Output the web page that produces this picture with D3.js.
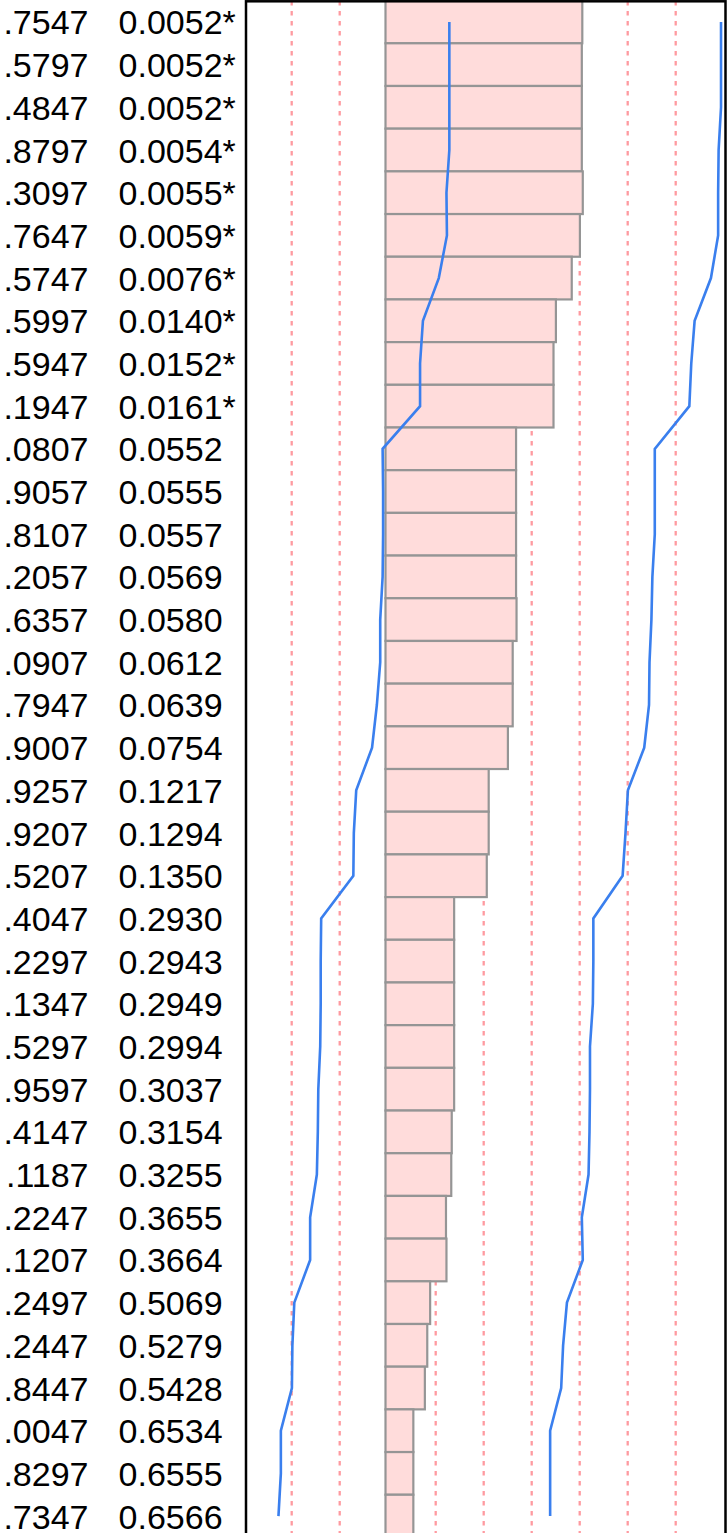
<html>
<head>
<script src="https://cdn.jsdelivr.net/npm/d3@7"></script>
<style>
body { margin: 0; background: #fff; }
text { font-family: "Liberation Sans", Arial, Helvetica, sans-serif; font-size: 34px; fill: #000; }
</style>
</head>
<body>
<svg id="chart" width="727" height="1533"></svg>
<script>
// row labels (cut off at the left edge of the picture)
var labels = [".7547", ".5797", ".4847", ".8797", ".3097", ".7647", ".5747", ".5997", ".5947", ".1947",
  ".0807", ".9057", ".8107", ".2057", ".6357", ".0907", ".7947", ".9007", ".9257", ".9207",
  ".5207", ".4047", ".2297", ".1347", ".5297", ".9597", ".4147", ".1187", ".2247", ".1207",
  ".2497", ".2447", ".8447", ".0047", ".8297", ".7347"];

var pValues = ["0.0052*", "0.0052*", "0.0052*", "0.0054*", "0.0055*", "0.0059*", "0.0076*", "0.0140*", "0.0152*", "0.0161*",
  "0.0552", "0.0555", "0.0557", "0.0569", "0.0580", "0.0612", "0.0639", "0.0754", "0.1217", "0.1294",
  "0.1350", "0.2930", "0.2943", "0.2949", "0.2994", "0.3037", "0.3154", "0.3255", "0.3655", "0.3664",
  "0.5069", "0.5279", "0.5428", "0.6534", "0.6555", "0.6566"];

// bar lengths (one grid step = 1)
var barValues = [4.10, 4.09, 4.09, 4.09, 4.11, 4.05, 3.88, 3.55, 3.50, 3.50,
  2.72, 2.72, 2.72, 2.72, 2.73, 2.65, 2.65, 2.55, 2.15, 2.15,
  2.11, 1.43, 1.43, 1.43, 1.43, 1.43, 1.38, 1.37, 1.26, 1.27,
  0.93, 0.87, 0.82, 0.58, 0.58, 0.58];

// lower and upper blue lines
var lowerValues = [1.33, 1.33, 1.33, 1.33, 1.27, 1.28, 1.11, 0.78, 0.72, 0.72,
  -0.06, -0.05, -0.05, -0.06, -0.11, -0.11, -0.18, -0.28, -0.61, -0.66,
  -0.67, -1.34, -1.35, -1.35, -1.36, -1.40, -1.41, -1.43, -1.57, -1.57,
  -1.90, -1.94, -1.95, -2.18, -2.18, -2.23];

var upperValues = [6.99, 6.99, 6.99, 6.94, 6.93, 6.93, 6.78, 6.44, 6.37, 6.33,
  5.61, 5.61, 5.61, 5.56, 5.54, 5.50, 5.49, 5.39, 5.05, 5.00,
  4.94, 4.33, 4.33, 4.32, 4.26, 4.26, 4.25, 4.23, 4.09, 4.11,
  3.78, 3.70, 3.66, 3.43, 3.43, 3.43];

var svg = d3.select("#chart");

var x = d3.scaleLinear().domain([0, 1]).range([385.5, 433.5]);
var y = d3.scaleBand().domain(d3.range(labels.length)).range([0.6, 0.6 + 42.69 * labels.length]);
var mid = function(i) { return y(i) + y.bandwidth() / 2; };

//dotted grid lines
svg.selectAll("line.grid")
    .data(d3.range(-2, 7))
    .enter().append("line")
      .attr("class", "grid")
      .attr("x1", function(d) { return x(d) + 2.2; })
      .attr("x2", function(d) { return x(d) + 2.2; })
      .attr("y1", 1)
      .attr("y2", 1533)
      .style("stroke", "#fe9aa0")
      .style("stroke-width", 2.3)
      .style("stroke-dasharray", "4.5,5.5");

//bars
svg.selectAll("rect.bar")
    .data(barValues)
    .enter().append("rect")
      .attr("class", "bar")
      .attr("x", x(0))
      .attr("y", function(d, i) { return y(i); })
      .attr("width", function(d) { return x(d) - x(0); })
      .attr("height", y.bandwidth())
      .style("fill", "#ffdcdb")
      .style("stroke", "#959595")
      .style("stroke-width", 2.2);

//blue lines
var line = d3.line()
    .x(function(d) { return x(d); })
    .y(function(d, i) { return mid(i); });

[lowerValues, upperValues].forEach(function(vals) {
  svg.append("path")
      .attr("d", line(vals))
      .style("fill", "none")
      .style("stroke", "#3a7fee")
      .style("stroke-width", 2.6);
});

//text columns
svg.selectAll("text.lab")
    .data(labels)
    .enter().append("text")
      .attr("class", "lab")
      .attr("x", 88.5)
      .attr("y", function(d, i) { return mid(i) + 12.5; })
      .attr("text-anchor", "end")
      .text(function(d) { return d; });

svg.selectAll("text.pval")
    .data(pValues)
    .enter().append("text")
      .attr("class", "pval")
      .attr("x", 118.6)
      .attr("y", function(d, i) { return mid(i) + 12.5; })
      .text(function(d) { return d; });

//frame
svg.append("rect")
    .attr("x", 246)
    .attr("y", 1.3)
    .attr("width", 479.5)
    .attr("height", 2000)
    .style("fill", "none")
    .style("stroke", "#000")
    .style("stroke-width", 2.5);
</script>
</body>
</html>
